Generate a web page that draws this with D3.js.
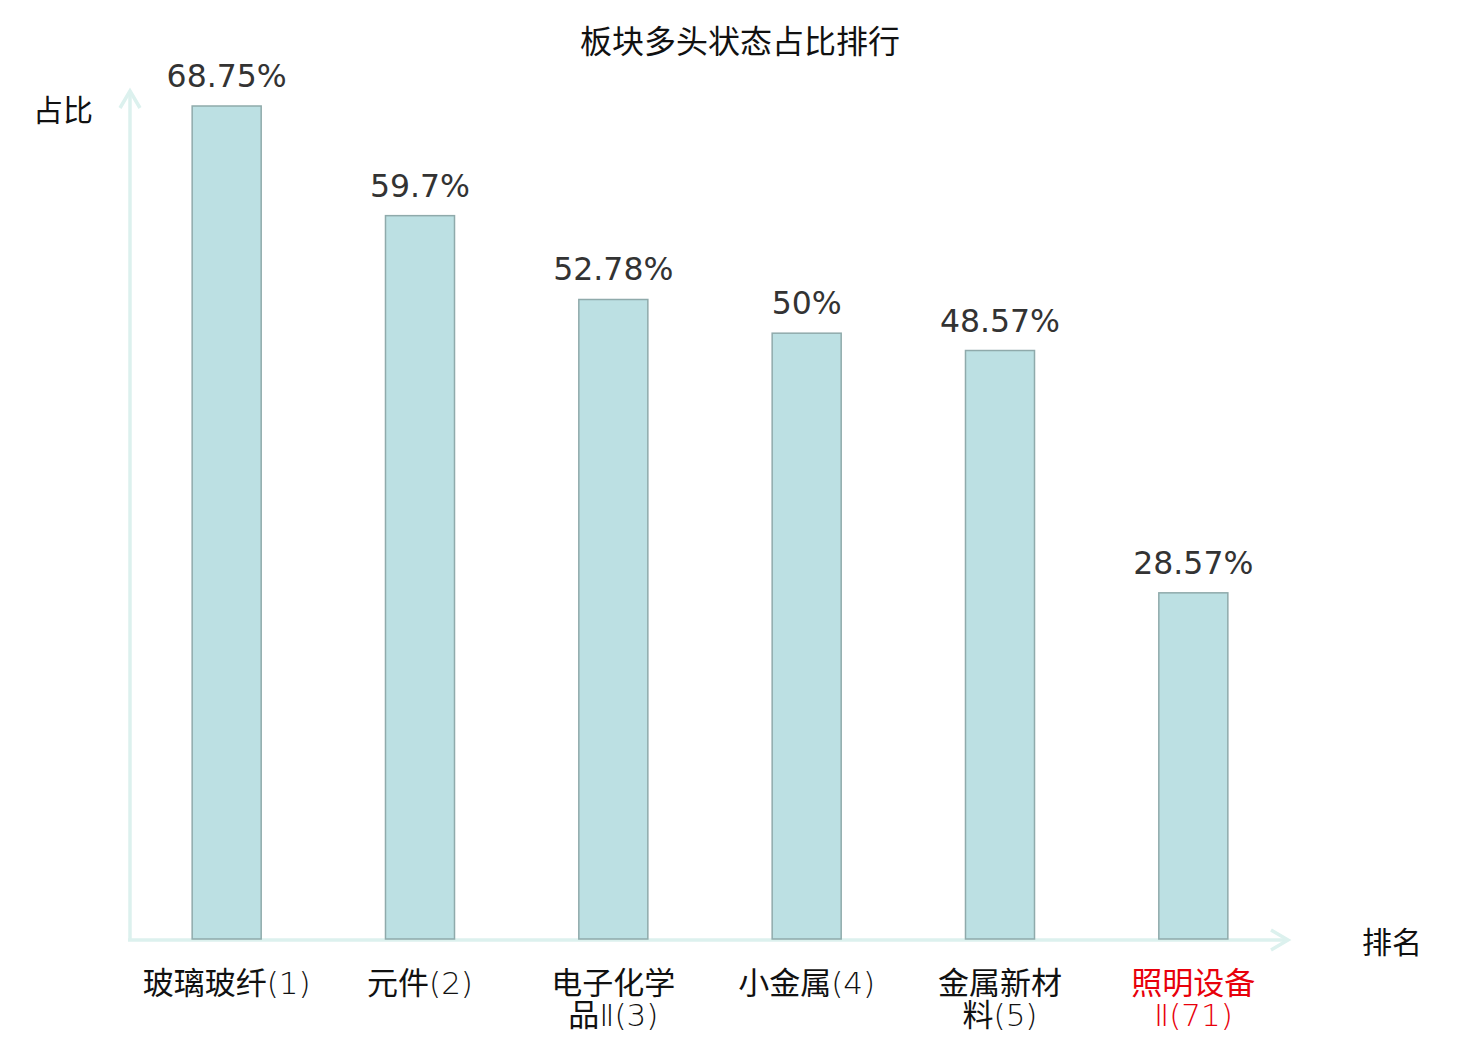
<!DOCTYPE html>
<html>
<head>
<meta charset="utf-8">
<script src="https://cdn.jsdelivr.net/npm/d3@7"></script>
<style>
  html, body { margin: 0; padding: 0; background: #fff; }
  svg { display: block; }
  text { font-family: "DejaVu Sans", "Noto Sans CJK SC", sans-serif; }
</style>
</head>
<body>
<div id="chart"></div>
<script>
// données
const names = ["玻璃玻纤", "元件", "电子化学品Ⅱ", "小金属", "金属新材料", "照明设备Ⅱ"];
const ranks = [1, 2, 3, 4, 5, 71];
const values = [68.75, 59.7, 52.78, 50, 48.57, 28.57];
const highlight = [false, false, false, false, false, true];

const width = 1480, height = 1040;
const axisColor = "#dcf1ee";

const svg = d3.select("#chart").append("svg")
    .attr("width", width)
    .attr("height", height);

const x = d3.scaleBand()
    .domain(names)
    .range([130, 1290])
    .paddingInner(0.643)
    .paddingOuter(0.3215);

const y = d3.scaleLinear()
    .domain([0, 68.75])
    .range([939, 106]);

// titre
svg.append("text")
    .attr("x", 740)
    .attr("y", 53)
    .attr("text-anchor", "middle")
    .style("font-size", "32px")
    .style("fill", "#111")
    .text("板块多头状态占比排行");

// axes avec flèches
svg.append("line")
    .attr("x1", 130).attr("y1", 941)
    .attr("x2", 130).attr("y2", 91)
    .attr("stroke", axisColor).attr("stroke-width", 3.5);
svg.append("path")
    .attr("d", "M120,108 L130,91 L140,108")
    .attr("fill", "none").attr("stroke", axisColor).attr("stroke-width", 3.5);

svg.append("line")
    .attr("x1", 128).attr("y1", 940)
    .attr("x2", 1288).attr("y2", 940)
    .attr("stroke", axisColor).attr("stroke-width", 3.5);
svg.append("path")
    .attr("d", "M1271,930 L1288,940 L1271,950")
    .attr("fill", "none").attr("stroke", axisColor).attr("stroke-width", 3.5);

svg.append("text")
    .attr("x", 63).attr("y", 121)
    .attr("text-anchor", "middle")
    .style("font-size", "30px").style("fill", "#111")
    .text("占比");
svg.append("text")
    .attr("x", 1392).attr("y", 953)
    .attr("text-anchor", "middle")
    .style("font-size", "30px").style("fill", "#111")
    .text("排名");

// barres
svg.selectAll("rect.bar")
    .data(values)
    .enter()
    .append("rect")
    .attr("class", "bar")
    .attr("x", (d, i) => x(names[i]))
    .attr("y", d => y(d))
    .attr("width", x.bandwidth())
    .attr("height", d => y(0) - y(d))
    .attr("fill", "#bce0e3")
    .attr("stroke", "#8faaab")
    .attr("stroke-width", 1.5);

// valeurs
svg.selectAll("text.value")
    .data(values)
    .enter()
    .append("text")
    .attr("class", "value")
    .attr("x", (d, i) => x(names[i]) + x.bandwidth() / 2)
    .attr("y", d => y(d) - 19)
    .attr("text-anchor", "middle")
    .style("font-size", "31.5px")
    .style("fill", "#333")
    .text(d => d + "%");

// étiquettes des catégories (4 caractères par ligne), chiffres en trait fin
const cat = svg.selectAll("text.cat")
    .data(names)
    .enter()
    .append("text")
    .attr("class", "cat")
    .attr("x", d => x(d) + x.bandwidth() / 2)
    .attr("y", 994)
    .attr("text-anchor", "middle")
    .style("font-size", "31px")
    .style("fill", (d, i) => highlight[i] ? "#e8000b" : "#111");

cat.each(function(d, i) {
    const t = d3.select(this);
    const cx = t.attr("x");
    const lines = d.length > 4
        ? [d.slice(0, 4), d.slice(4) + "(" + ranks[i] + ")"]
        : [d + "(" + ranks[i] + ")"];
    lines.forEach((line, li) => {
        const parts = line.match(/[\u4e00-\u9fff]+|[^\u4e00-\u9fff]+/g);
        parts.forEach((p, pi) => {
            const s = t.append("tspan").text(p);
            if (pi === 0) s.attr("x", cx).attr("dy", li === 0 ? 0 : 32);
            if (/[\u4e00-\u9fff]/.test(p)) {
                s.style("font-family", "'Noto Sans CJK SC', sans-serif");
            } else {
                s.style("font-family", "'DejaVu Sans', sans-serif").style("font-weight", 200);
            }
        });
    });
});
</script>
</body>
</html>
